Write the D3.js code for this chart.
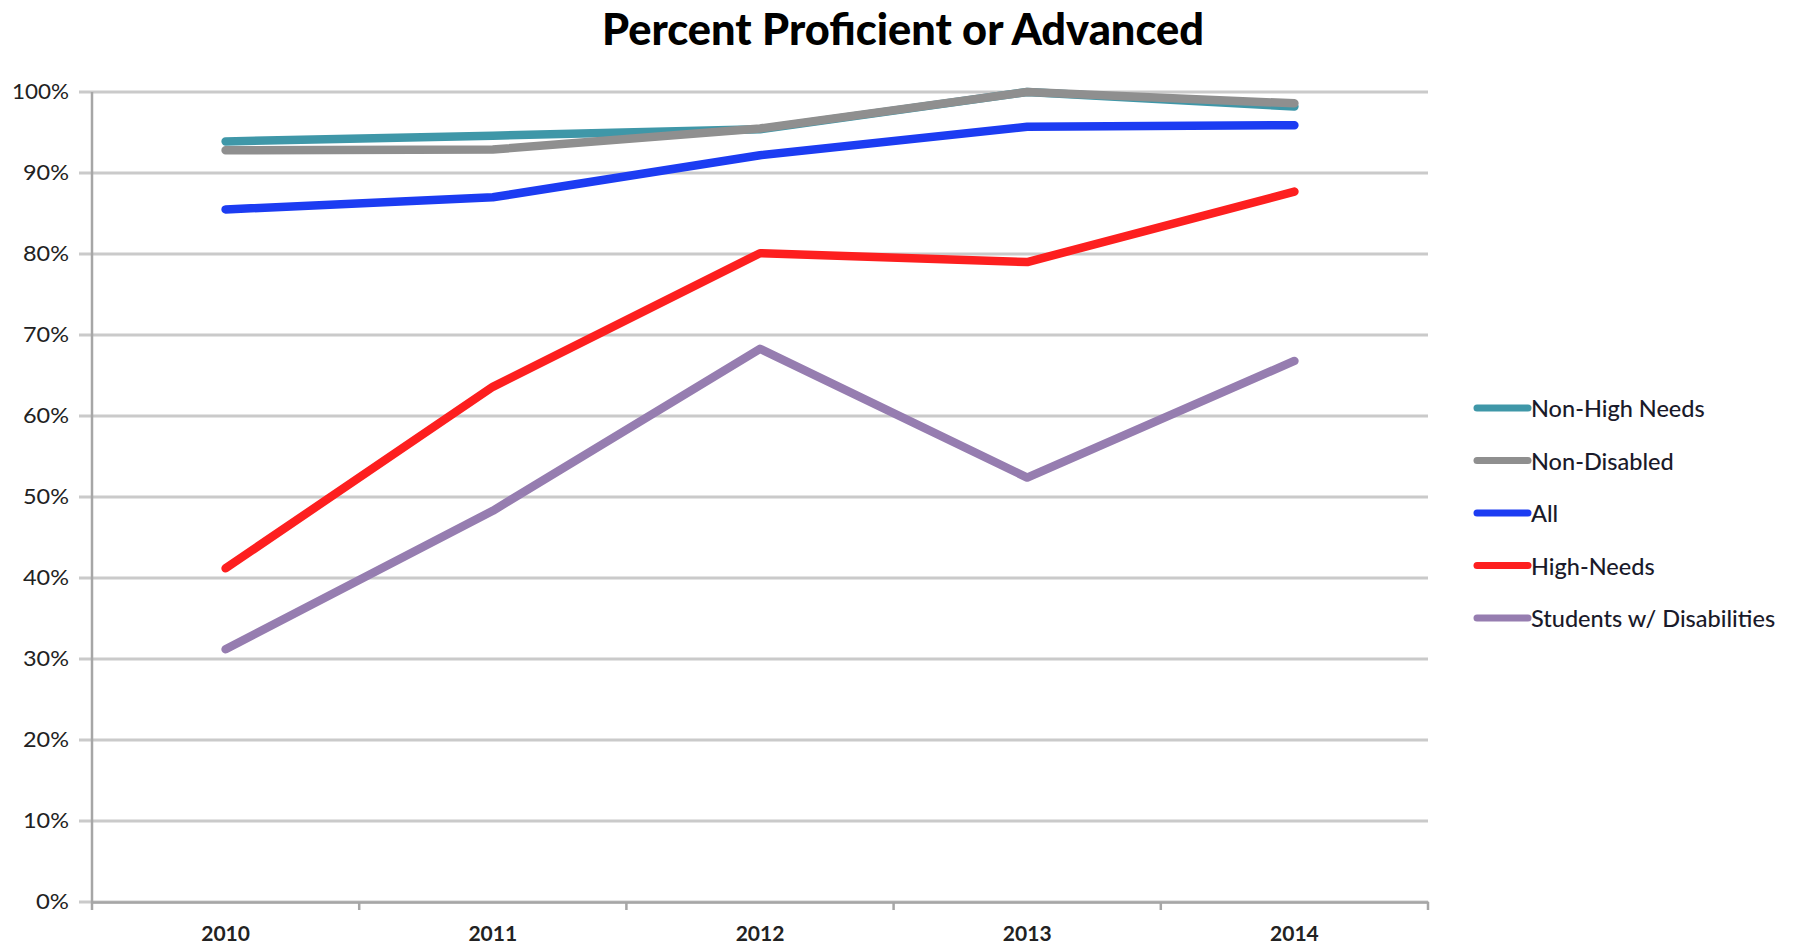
<!DOCTYPE html>
<html>
<head>
<meta charset="utf-8">
<script src="https://cdn.jsdelivr.net/npm/d3@7"></script>
<style>
  body { margin: 0; background: #fff; }
  text { font-family: Lato, "Open Sans", sans-serif; fill: #111; }
</style>
</head>
<body>
<div id="viz"></div>
<script>
// data
var years = ['2010', '2011', '2012', '2013', '2014'];
var seriesNames = ['Non-High Needs', 'Non-Disabled', 'All', 'High-Needs', 'Students w/ Disabilities'];
var nonHighNeeds = [93.9, 94.6, 95.4, 100, 98.2];
var nonDisabled = [92.8, 92.9, 95.5, 100, 98.6];
var allStudents = [85.5, 87.0, 92.2, 95.7, 95.9];
var highNeeds = [41.2, 63.6, 80.1, 79.0, 87.7];
var disabilities = [31.2, 48.3, 68.3, 52.4, 66.8];
var yTicks = [0, 10, 20, 30, 40, 50, 60, 70, 80, 90, 100];
var colors = ['#3f97a8', '#8f8f8f', '#1c3cf2', '#fd1f1f', '#967db0'];

var seriesValues = [nonHighNeeds, nonDisabled, allStudents, highNeeds, disabilities];

//svg width&height
var width = 1798;
var height = 947;
var margin = { t: 92, l: 92, b: 45, r: 370 };

var svg = d3.select('#viz').append('svg')
  .attr('width', width)
  .attr('height', height);

var x = d3.scaleBand()
  .domain(years)
  .range([margin.l, width - margin.r])
  .padding(0);

var y = d3.scaleLinear()
  .domain([0, 100])
  .range([height - margin.b, margin.t]);

// title
svg.append('text')
  .attr('x', 903)
  .attr('y', 45)
  .attr('text-anchor', 'middle')
  .attr('textLength', 602)
  .attr('lengthAdjust', 'spacingAndGlyphs')
  .style('font-size', '43px')
  .style('font-weight', '900')
  .style('fill', '#000')
  .text('Percent Proficient or Advanced');

// gridlines
svg.append('g')
  .selectAll('line')
  .data(yTicks)
  .join('line')
  .attr('x1', margin.l - 13)
  .attr('x2', width - margin.r)
  .attr('y1', d => y(d))
  .attr('y2', d => y(d))
  .attr('stroke', '#cacaca')
  .attr('stroke-width', 3);

// y axis
var yAxis = svg.append('g')
  .attr('transform', `translate(${margin.l - 13}, 0)`)
  .call(d3.axisLeft(y).tickValues(yTicks).tickSize(0).tickPadding(10).tickFormat(d => d + '%'));
yAxis.select('.domain').remove();
yAxis.selectAll('text')
  .attr('textLength', d => d === 100 ? 57 : (d === 0 ? 33 : 46))
  .attr('lengthAdjust', 'spacingAndGlyphs')
  .style('font-size', '21px')
  .style('font-family', 'Lato, sans-serif')
  .style('fill', '#222');

svg.append('line')
  .attr('x1', margin.l).attr('x2', margin.l)
  .attr('y1', margin.t).attr('y2', y(0))
  .attr('stroke', '#a6a6a6')
  .attr('stroke-width', 2.5);

// x axis
var xAxis = svg.append('g')
  .attr('transform', `translate(0, ${y(0)})`)
  .call(d3.axisBottom(x).tickSize(0).tickPadding(24));
xAxis.select('.domain')
  .attr('stroke', '#a6a6a6')
  .attr('stroke-width', 2.5);
xAxis.selectAll('text')
  .style('font-size', '21px')
  .style('font-weight', 'bold')
  .style('font-family', 'Lato, sans-serif')
  .style('fill', '#222');

// x tick marks on the band edges
var edges = years.map(d => x(d)).concat([x(years[years.length - 1]) + x.bandwidth()]);
svg.append('g')
  .selectAll('line')
  .data(edges)
  .join('line')
  .attr('x1', d => d).attr('x2', d => d)
  .attr('y1', y(0)).attr('y2', y(0) + 8)
  .attr('stroke', '#a6a6a6')
  .attr('stroke-width', 2.5);

// lines
var line = d3.line()
  .x((d, i) => x(years[i]) + x.bandwidth() / 2)
  .y(d => y(d));

// draw in reverse so Non-High Needs sits under Non-Disabled like the original
var order = [4, 3, 2, 0, 1];
svg.append('g')
  .selectAll('path')
  .data(order)
  .join('path')
  .attr('d', i => line(seriesValues[i]))
  .attr('fill', 'none')
  .attr('stroke', i => colors[i])
  .attr('stroke-width', 8.5)
  .attr('stroke-linecap', 'round')
  .attr('stroke-linejoin', 'round');

// legend
var legend = svg.append('g')
  .attr('transform', 'translate(1474, 408)');
var rows = legend.selectAll('g')
  .data(seriesNames)
  .join('g')
  .attr('transform', (d, i) => `translate(0, ${i * 52.5})`);
rows.append('line')
  .attr('x1', 3).attr('x2', 54)
  .attr('stroke', (d, i) => colors[i])
  .attr('stroke-width', 7)
  .attr('stroke-linecap', 'round');
rows.append('text')
  .attr('x', 57)
  .attr('y', 9)
  .style('font-size', '23.5px')
  .style('font-weight', '500')
  .style('fill', '#1a1a2a')
  .text(d => d);
</script>
</body>
</html>
